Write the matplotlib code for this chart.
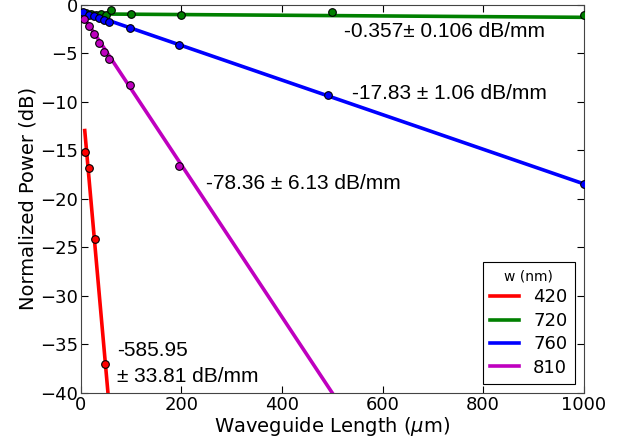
import numpy as np
import matplotlib
matplotlib.use('Agg')
import matplotlib.pyplot as plt

# measured transmission vs waveguide length, one series per width
widths = ['420', '720', '760', '810']
colors = ['r', 'g', 'b', 'm']

x_420 = [8, 17, 28, 48]
p_420 = [-15.2, -16.8, -24.1, -37.0]

x_720 = [10, 20, 30, 40, 50, 60, 100, 200, 500, 1000]
p_720 = [-0.85, -0.95, -1.0, -0.95, -1.05, -0.5, -0.93, -1.03, -0.69, -1.03]

x_760 = [5, 17, 27, 37, 47, 57, 97, 196, 492, 1000]
p_760 = [-0.69, -1.03, -1.2, -1.31, -1.55, -1.72, -2.4, -4.12, -9.28, -18.45]

x_810 = [6, 17, 27, 37, 47, 57, 97, 196]
p_810 = [-1.44, -2.16, -3.02, -3.89, -4.81, -5.6, -8.25, -16.6]

# linear fits: slope in dB/mm, intercept in dB
slopes = [-585.95, -0.357, -17.83, -78.36]
errors = [33.81, 0.106, 1.06, 6.13]
intercepts = [-8.27, -0.93, -0.62, -0.82]

xs = [x_420, x_720, x_760, x_810]
ps = [p_420, p_720, p_760, p_810]

plt.rcParams['font.family'] = 'DejaVu Sans'
fig = plt.figure(figsize=(6.21, 4.40), dpi=100)
ax = fig.add_axes([0.130, 0.107, 0.810, 0.882])

for x, p, m, b, c, w in zip(xs, ps, slopes, intercepts, colors, widths):
    xf = np.linspace(x[0], 1000, 200)
    ax.plot(xf, b + m * xf / 1000.0, color=c, lw=2.6, label=w, zorder=2)
    ax.plot(x, p, 'o', color=c, mec='k', mew=0.8, ms=5.5, zorder=3)

txt = dict(fontsize=15, family='Liberation Sans', ha='left', va='center')
ax.text(524, -2.7, '%.3f\u00b1 %.3f dB/mm' % (slopes[1], errors[1]), **txt)
ax.text(540, -9.1, '%.2f \u00b1 %.2f dB/mm' % (slopes[2], errors[2]), **txt)
ax.text(250, -18.45, '%.2f \u00b1 %.2f dB/mm' % (slopes[3], errors[3]), **txt)
ax.text(73, -35.6, '%.2f' % slopes[0], **txt)
ax.text(73, -38.3, '\u00b1 %.2f dB/mm' % errors[0], **txt)

ax.set_xlim(0, 1000)
ax.set_ylim(-40, 0)
ax.set_xticks([0, 200, 400, 600, 800, 1000])
ax.set_yticks(np.arange(-40, 1, 5))
ax.tick_params(direction='in', top=True, right=True, labelsize=13, length=5, pad=2)
for s in ax.spines.values():
    s.set_color('#444444')
ax.set_xlabel(r'Waveguide Length ($\mu$m)', fontsize=14, labelpad=1)
ax.set_ylabel('Normalized Power (dB)', fontsize=14, labelpad=2)

leg = ax.legend(title='w (nm)', loc='lower right', fontsize=13, title_fontsize=10,
                fancybox=False, handlelength=1.6, borderpad=0.4, labelspacing=0.3,
                framealpha=1)
leg.get_frame().set_edgecolor('k')
leg.get_frame().set_linewidth(0.8)

fig.savefig('out.png', dpi=100)
